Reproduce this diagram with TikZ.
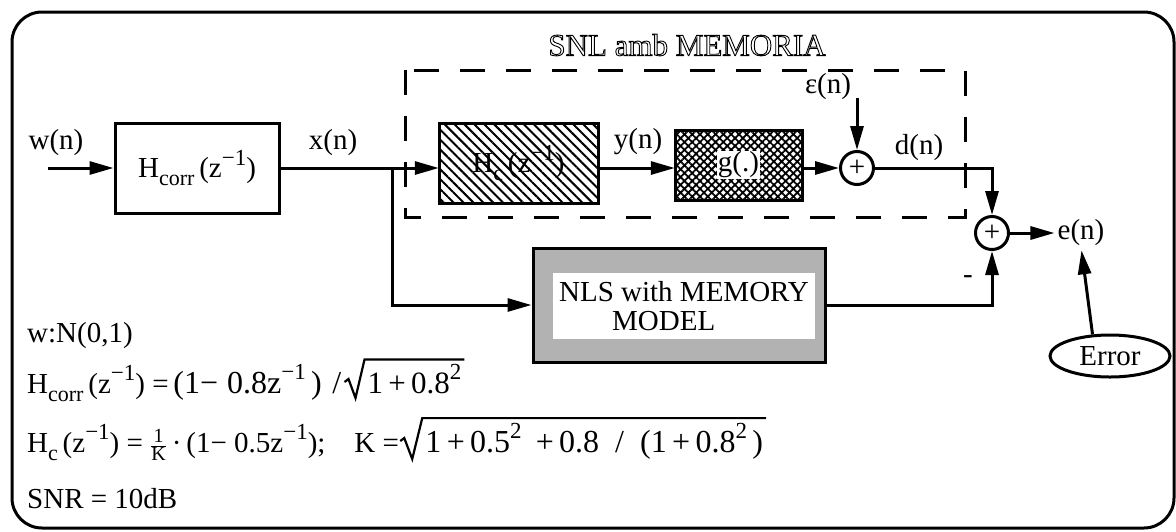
\documentclass[tikz,border=0pt]{standalone}
\usepackage{fontspec}
\setmainfont{Liberation Serif}
\usetikzlibrary{arrows.meta,patterns.meta,shapes.geometric,calc}
\newcommand\lo[1]{\raisebox{-0.28em}{\fontsize{22}{22}\selectfont #1}}
\newcommand\hi[1]{\raisebox{0.42em}{\fontsize{23}{23}\selectfont #1}}
\newcommand\fsz[1]{\fontsize{#1}{#1}\selectfont}
\newcommand\outl[1]{\special{pdf:literal direct 1 Tr 0.9 w}#1\special{pdf:literal direct 0 Tr}}
\tikzset{
  lw/.style={line width=3pt},
  arr/.style={lw,-{Triangle[length=24pt,width=13pt]}},
  blockbox/.style={draw,lw,inner sep=0pt},
  lbl/.style={inner sep=0pt},
  sumnode/.style={draw,lw,circle,minimum size=33pt,inner sep=0pt},
  formula/.style={anchor=base west,inner sep=0pt},
  radical/.style={line width=2.2pt,line join=miter},
}
\begin{document}
\begin{tikzpicture}[x=1pt,y=-1pt,font=\fontsize{29}{34}\selectfont]
\useasboundingbox (0,0) rectangle (1176,531);
% outer frame
\draw[lw,rounded corners=30pt] (12,12) rectangle (1174,528);
% dashed subsystem frame
\draw[lw,dash pattern=on 25pt off 21pt] (405,70) rectangle (965,217);

% blocks
\node[blockbox,minimum width=164pt,minimum height=90pt] (hcorr) at (197,168)
  {H\lo{corr}\,(z\hi{−1})};
\path[blockbox,pattern={Lines[angle=-45,distance=7pt,line width=2pt]}]
  (439,123) rectangle (598,203);
\node[minimum width=159pt,minimum height=80pt,inner sep=0pt] (hc) at (518.5,163)
  {H\lo{c}\,(z\hi{−1})};
\path[draw,lw,pattern={Hatch[angle=45,distance=5.5pt,line width=1.8pt]}]
  (675,130) rectangle (802,200);
\node[minimum width=127pt,minimum height=70pt,inner sep=0pt] (g) at (738.5,165) {};
\node[fill=white,inner sep=1pt] (gtext) at (g) {g(.)};
\node[sumnode] (s1) at (857,168) {+};
\node[sumnode] (s2) at (992,233) {+};
\node[blockbox,fill=black!30,minimum width=292pt,minimum height=114pt] (nls) at (679,305) {};
\node[fill=white,inner sep=0pt,minimum width=262pt,minimum height=66pt,
      align=left,font=\fontsize{29}{29}\selectfont] (nlstext) at (684,306)
  {NLS with MEMORY\\\hspace*{53pt}MODEL};
\node[draw,lw,ellipse,minimum width=120pt,minimum height=42pt,inner sep=0pt] (err) at (1110,356) {Error};

% labels
\node[lbl] (wl) at (56,143) {w(n)};
\node[lbl] (xl) at (333,143) {x(n)};
\node[lbl] (yl) at (638,142) {y(n)};
\node[lbl] (epsl) at (828,87) {ε(n)};
\node[lbl] (dl) at (919,148) {d(n)};
\node[lbl] (en) at (1081,233) {e(n)};
\node[lbl] (minus) at (968,280) {-};

% coordinates
\coordinate (win) at (48,168);
\coordinate (junc) at (392,168);
\coordinate (epsin) at (857,98);
\coordinate (dcorner) at (992,168);
\coordinate (ncorner) at (992,305);

% connectors
\draw[arr] (win) -- (hcorr.west |- win);
\draw[lw] (hcorr.east |- junc) -- (junc);
\draw[arr] (junc) -- (junc -| hc.west);
\draw[arr] (junc) |- (nls.west);
\draw[arr] (hc.east |- junc) -- (g.west |- junc);
\draw[arr] (g.east |- s1) -- (s1.west);
\draw[arr] (epsin) -- (s1.north);
\draw[arr] (s1.east) -- (dcorner) -- (s2.north);
\draw[arr] (nls.east) -- (ncorner) -- (s2.south);
\draw[arr] (s2.east) -- ([xshift=-3pt]en.west);
\draw[arr,shorten >=4pt] (err.129) -- (en.south);

% bottom text
\node[formula] (f1) at (27,342) {w:N(0,1)};
\node[formula] (f2a) at (27,393) {H\lo{corr}\,(z\hi{−1}) =\,{\fsz{32}(1−\;0.8z\hi{−1}\,)\,\,/}};
\node[formula,font=\fsz{31}] (f2b) at ($(f2a.base east)+(26,0)$) {1\,+\,0.8\hi{2}};
\draw[radical] ($(f2b.base west)+(-23,-11)$) -- ($(f2b.base west)+(-19,-14)$)
  -- ($(f2b.base west)+(-12,5)$) -- ($(f2b.north west)+(-3,-5)$)
  -- ($(f2b.north east)+(3,-5)$);
\node[formula] (f3a) at (27,452) {H\lo{c}\,(z\hi{−1}) = $\frac{\mbox{\fontsize{20}{20}\selectfont 1}}{\mbox{\fontsize{20}{20}\selectfont K}}$\,·\,(1− 0.5z\hi{−1});\quad K =};
\node[formula,font=\fsz{32}] (f3b) at ($(f3a.base east)+(26,0)$) {1\,+\,0.5\hi{2}\;\,+\,0.8\enspace/\enspace(1\,+\,0.8\hi{2}\,)};
\draw[radical] ($(f3b.base west)+(-25,-11)$) -- ($(f3b.base west)+(-21,-14)$)
  -- ($(f3b.base west)+(-13,7)$) -- ($(f3b.north west)+(-3,-5)$)
  -- ($(f3b.north east)+(3,-5)$);
\node[formula] (f4) at (27,508) {SNR = 10dB};

% title (outlined letters), drawn last
\node[lbl,font=\fontsize{31}{31}\selectfont] (title) at (687,45) {\outl{SNL amb MEMORIA}};
\end{tikzpicture}
\end{document}
